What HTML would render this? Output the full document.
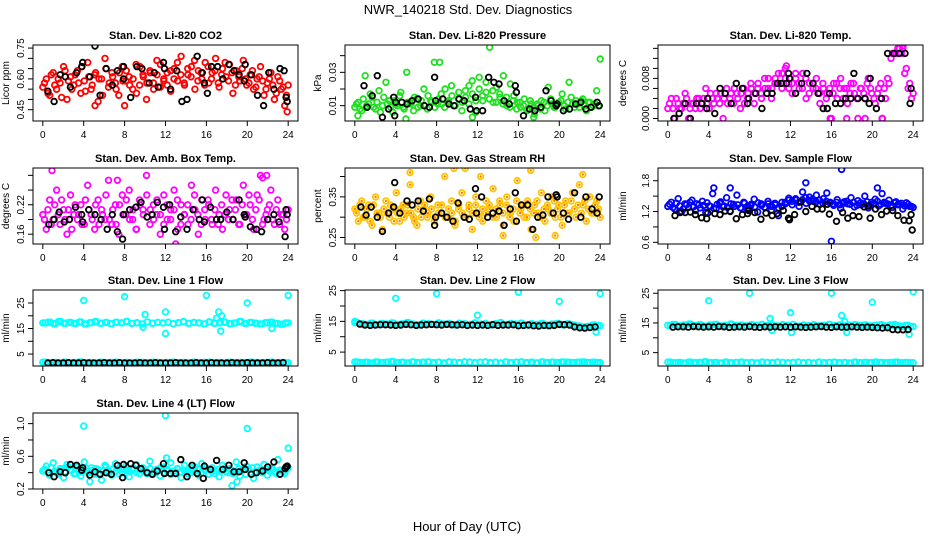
<!DOCTYPE html>
<html><head><meta charset="utf-8">
<style>
body{margin:0;background:#fff;}
svg{display:block;font-family:"Liberation Sans",Arial,sans-serif;}
</style></head>
<body>
<svg id="chart" width="936" height="540" viewBox="0 0 936 540" xmlns="http://www.w3.org/2000/svg">
<rect width="936" height="540" fill="#fff"/>
<text x="468" y="14" text-anchor="middle" font-size="13">NWR_140218  Std. Dev. Diagnostics</text>
<text x="467" y="531" text-anchor="middle" font-size="13">Hour of Day (UTC)</text>
<g id="panels"></g>
</svg>
<script>
const xTicks=[0,4,8,12,16,20,24];

const co2Vals=[0.56,0.60,0.52,0.63,0.55,0.58,0.66,0.50,0.61,0.57,0.64,0.53,0.59,0.68,0.55,0.62,0.49,0.60,0.70,0.56,0.63,0.58,0.52,0.66,0.59,0.61,0.55,0.67,0.57,0.62,0.50,0.64,0.58,0.69,0.56,0.60,0.63,0.54,0.65,0.59,0.71,0.57,0.62,0.66,0.55,0.64,0.60,0.68,0.58,0.63,0.70,0.56,0.65,0.61,0.67,0.53,0.64,0.59,0.69,0.57,0.62,0.55,0.60,0.66,0.52,0.58,0.63,0.50,0.61,0.55,0.47,0.57];
const co2Vals2=[0.58,0.53,0.62,0.57,0.60,0.51,0.64,0.59,0.55,0.62,0.58,0.66,0.54,0.61,0.57,0.63,0.60,0.52,0.65,0.58,0.61,0.55,0.63,0.59,0.64,0.57,0.60,0.53,0.66,0.61,0.58,0.63,0.55,0.62,0.67,0.59,0.57,0.64,0.60,0.68,0.62,0.58,0.65,0.61,0.69,0.59,0.63,0.57,0.66,0.60,0.64,0.58,0.62,0.68,0.59,0.63,0.57,0.61,0.65,0.60,0.58,0.64,0.56,0.61,0.59,0.55,0.60,0.57,0.53,0.59,0.56,0.52];
const co2BlackHours=[0.5,1.1,1.7,2.2,2.7,3.3,3.8,3.9,4.6,5.1,5.6,6.2,6.8,7.3,7.9,7.9,8.6,9.2,9.7,10.4,10.9,11.3,11.8,11.9,12.5,13.1,13.6,14.1,15.1,15.6,15.8,16.1,16.5,17.1,17.6,18.2,18.7,19.2,19.7,19.8,20.4,21.0,21.6,22.1,22.6,23.2,23.6,23.8,23.9];
const co2BlackVals=[0.54,0.49,0.62,0.61,0.56,0.63,0.66,0.68,0.61,0.76,0.52,0.65,0.57,0.64,0.60,0.66,0.51,0.66,0.65,0.58,0.63,0.56,0.68,0.65,0.55,0.64,0.49,0.50,0.71,0.63,0.58,0.53,0.66,0.66,0.60,0.67,0.64,0.62,0.59,0.67,0.62,0.52,0.47,0.63,0.55,0.65,0.64,0.51,0.49];
const co2OutHours=[5.1,8.0,23.9];
const co2OutVals=[0.47,0.47,0.44];

const presVals=[0.009,0.012,0.007,0.028,0.011,0.015,0.008,0.019,0.010,0.024,0.013,0.006,0.011,0.016,0.009,0.030,0.012,0.007,0.014,0.010,0.020,0.008,0.013,0.036,0.011,0.017,0.009,0.012,0.022,0.010,0.014,0.007,0.019,0.011,0.025,0.006,0.027,0.013,0.018,0.045,0.012,0.021,0.015,0.028,0.010,0.023,0.016,0.012,0.009,0.014,0.008,0.011,0.005,0.010,0.013,0.007,0.021,0.011,0.009,0.012,0.017,0.008,0.024,0.011,0.013,0.009,0.014,0.007,0.012,0.010,0.019,0.038];
const presVals2=[0.011,0.008,0.014,0.010,0.017,0.009,0.012,0.006,0.015,0.011,0.009,0.013,0.010,0.018,0.008,0.012,0.011,0.015,0.009,0.013,0.010,0.016,0.012,0.009,0.014,0.011,0.020,0.013,0.016,0.010,0.018,0.012,0.015,0.022,0.017,0.013,0.020,0.016,0.024,0.014,0.019,0.012,0.017,0.011,0.015,0.009,0.013,0.008,0.012,0.010,0.007,0.013,0.009,0.011,0.008,0.012,0.010,0.014,0.009,0.011,0.013,0.010,0.012,0.015,0.009,0.011,0.013,0.010,0.012,0.009,0.011,0.010];
const presBlackHours=[0.9,1.2,1.7,2.2,2.7,3.3,3.8,3.9,4.0,4.6,5.1,5.6,6.2,6.8,7.3,7.8,7.9,8.6,9.2,9.7,10.2,10.7,11.3,11.8,11.9,12.5,13.1,13.6,14.1,14.6,15.1,15.7,15.8,16.5,17.1,17.6,18.2,18.7,19.2,19.7,19.8,20.4,21.0,21.6,22.1,22.6,23.1,23.7,23.9];
const presBlackVals=[0.022,0.009,0.016,0.028,0.003,0.008,0.015,0.004,0.012,0.012,0.011,0.013,0.014,0.010,0.009,0.027,0.013,0.014,0.011,0.010,0.014,0.013,0.008,0.015,0.007,0.007,0.027,0.024,0.023,0.013,0.011,0.022,0.018,0.004,0.008,0.007,0.009,0.019,0.013,0.010,0.011,0.007,0.008,0.011,0.012,0.008,0.009,0.012,0.010];
const presOutHours=[0.3,5.0,8.3,11.5,17.5];
const presOutVals=[0.004,0.002,0.036,0.003,0.003];

const tempVals=[0.002,0.004,0.000,0.003,0.002,0.005,0.000,0.003,0.002,0.004,0.003,0.006,0.002,0.004,0.005,0.003,0.000,0.006,0.004,0.003,0.005,0.002,0.006,0.004,0.007,0.003,0.006,0.005,0.008,0.006,0.004,0.007,0.009,0.006,0.010,0.007,0.005,0.008,0.006,0.009,0.004,0.007,0.006,0.008,0.003,0.006,0.005,0.000,0.007,0.004,0.008,0.006,0.003,0.007,0.005,0.000,0.006,0.004,0.008,0.005,0.003,0.006,0.000,0.004,0.007,0.013,0.013,0.014,0.014,0.010,0.007,0.005];
const tempVals2=[0.003,0.002,0.004,0.002,0.003,0.004,0.002,0.003,0.004,0.002,0.004,0.003,0.005,0.003,0.004,0.005,0.004,0.003,0.005,0.006,0.004,0.005,0.003,0.005,0.006,0.005,0.007,0.004,0.006,0.008,0.006,0.008,0.007,0.009,0.008,0.006,0.007,0.009,0.007,0.006,0.008,0.005,0.007,0.006,0.005,0.007,0.004,0.006,0.005,0.007,0.006,0.004,0.006,0.005,0.007,0.004,0.006,0.005,0.007,0.006,0.004,0.005,0.007,0.006,0.008,0.012,0.013,0.014,0.013,0.009,0.006,0.004];
const tempBlackHours=[0.6,1.1,1.7,2.2,2.8,3.3,3.8,3.9,4.6,5.1,5.6,6.2,6.7,7.3,7.8,7.9,8.6,9.2,9.7,10.2,10.7,11.1,11.6,11.8,11.9,12.5,13.1,13.6,14.2,14.7,15.2,15.6,15.8,16.4,16.9,17.4,17.9,18.2,18.6,19.3,19.7,19.8,20.4,20.9,21.5,22.1,22.6,23.2,23.7,23.8];
const tempBlackVals=[0,0.001,0.003,0,0.003,0.003,0.002,0.004,0.001,0.006,0.005,0.003,0.007,0.006,0.003,0.004,0.005,0.002,0.005,0.005,0.007,0.007,0.007,0.009,0.008,0.005,0.007,0.009,0.007,0.005,0.002,0.002,0.005,0.003,0.003,0.004,0.004,0.009,0.004,0.004,0.003,0.008,0.002,0.004,0.013,0.013,0.013,0.013,0.003,0.006];
const tempOutHours=[11.6,16.0,17.5,19.3,21.0,23.0];
const tempOutVals=[0.0105,0,0,0,0,0.0145];

const ambVals=[0.20,0.17,0.23,0.19,0.25,0.18,0.21,0.16,0.24,0.20,0.19,0.22,0.18,0.26,0.20,0.17,0.23,0.21,0.19,0.27,0.18,0.22,0.16,0.24,0.20,0.25,0.19,0.17,0.23,0.21,0.28,0.18,0.22,0.20,0.16,0.24,0.19,0.21,0.25,0.17,0.22,0.20,0.18,0.26,0.21,0.16,0.23,0.19,0.22,0.18,0.25,0.20,0.17,0.24,0.21,0.19,0.23,0.18,0.26,0.20,0.22,0.17,0.24,0.28,0.19,0.21,0.25,0.18,0.23,0.20,0.17,0.21];
const ambVals2=[0.19,0.21,0.18,0.22,0.20,0.23,0.19,0.21,0.17,0.22,0.20,0.18,0.23,0.21,0.19,0.22,0.18,0.20,0.24,0.19,0.21,0.18,0.22,0.20,0.23,0.19,0.21,0.17,0.22,0.20,0.24,0.21,0.19,0.23,0.20,0.18,0.22,0.19,0.21,0.23,0.18,0.20,0.22,0.19,0.24,0.20,0.18,0.21,0.23,0.19,0.21,0.18,0.22,0.20,0.19,0.23,0.21,0.18,0.22,0.20,0.24,0.19,0.21,0.23,0.18,0.20,0.22,0.19,0.21,0.18,0.20,0.19];
const ambBlackHours=[0.6,1.1,1.6,2.1,2.6,3.2,3.8,3.9,4.5,5.1,5.7,6.3,6.8,7.3,7.8,7.9,8.5,9.1,9.6,10.2,10.7,11.2,11.8,11.9,12.4,13.0,13.5,14.1,14.7,15.3,15.6,15.8,16.4,17.0,17.4,18.0,18.6,19.2,19.7,19.8,20.3,20.9,21.4,22.0,22.6,23.1,23.7,23.8,23.9];
const ambBlackVals=[0.18,0.19,0.205,0.185,0.19,0.215,0.2,0.185,0.21,0.20,0.19,0.17,0.20,0.165,0.15,0.20,0.21,0.215,0.225,0.195,0.20,0.225,0.215,0.17,0.22,0.165,0.195,0.17,0.21,0.19,0.23,0.185,0.215,0.19,0.19,0.205,0.19,0.23,0.2,0.195,0.175,0.17,0.165,0.19,0.2,0.185,0.155,0.21,0.2];
const ambOutHours=[0.9,7.3,13.0,21.5,21.9];
const ambOutVals=[0.29,0.27,0.14,0.275,0.28];

const gasVals=[0.32,0.29,0.34,0.30,0.33,0.28,0.35,0.31,0.27,0.34,0.30,0.32,0.36,0.29,0.33,0.31,0.38,0.30,0.28,0.34,0.32,0.30,0.35,0.29,0.33,0.31,0.40,0.30,0.34,0.28,0.32,0.36,0.30,0.33,0.27,0.35,0.31,0.29,0.34,0.32,0.37,0.30,0.33,0.28,0.35,0.31,0.29,0.39,0.32,0.30,0.34,0.27,0.33,0.31,0.36,0.29,0.32,0.35,0.30,0.33,0.28,0.34,0.31,0.36,0.30,0.38,0.33,0.29,0.35,0.31,0.34,0.30];
const gasVals2=[0.31,0.33,0.30,0.32,0.29,0.33,0.31,0.30,0.32,0.31,0.33,0.29,0.31,0.32,0.30,0.33,0.31,0.29,0.32,0.30,0.33,0.31,0.32,0.30,0.31,0.33,0.30,0.32,0.31,0.29,0.33,0.31,0.30,0.32,0.31,0.33,0.30,0.32,0.31,0.33,0.30,0.32,0.34,0.31,0.33,0.30,0.32,0.34,0.31,0.33,0.30,0.32,0.31,0.34,0.30,0.32,0.33,0.31,0.34,0.32,0.30,0.33,0.31,0.34,0.32,0.33,0.31,0.34,0.32,0.31,0.33,0.32];
const gasBlackHours=[0.6,1.1,1.6,2.2,2.7,3.3,3.8,3.9,4.4,5.1,5.6,6.2,6.7,7.3,7.8,7.9,8.5,9.0,9.6,10.1,10.7,11.2,11.8,11.9,12.4,13.0,13.5,14.1,14.6,15.2,15.7,15.8,16.3,16.9,17.4,17.9,18.4,18.9,19.4,19.7,19.8,20.4,20.9,21.5,22.1,22.6,23.2,23.7,23.9];
const gasBlackVals=[0.325,0.305,0.325,0.30,0.265,0.31,0.325,0.385,0.31,0.34,0.33,0.34,0.315,0.345,0.28,0.30,0.31,0.30,0.29,0.335,0.30,0.295,0.37,0.31,0.35,0.30,0.31,0.315,0.28,0.32,0.36,0.29,0.33,0.33,0.27,0.30,0.305,0.35,0.31,0.355,0.35,0.31,0.295,0.36,0.30,0.35,0.32,0.31,0.35];
const gasOutHours=[5.4,9.7,10.8,12.3,14.5,17.2,17.7,19.6,22.3];
const gasOutVals=[0.41,0.42,0.42,0.40,0.255,0.415,0.25,0.255,0.405];

const flowVals=[1.30,1.38,1.25,1.45,1.20,1.35,1.28,1.42,1.22,1.33,1.40,1.18,1.31,1.55,1.26,1.36,1.29,1.47,1.21,1.34,1.52,1.27,1.38,1.24,1.32,1.44,1.19,1.35,1.28,1.40,1.23,1.36,1.12,1.30,1.38,1.46,1.33,1.42,1.30,1.58,1.36,1.48,1.40,1.52,1.34,1.45,1.56,1.38,1.32,1.43,1.26,1.39,1.35,1.47,1.29,1.41,1.33,1.50,1.27,1.38,1.44,1.31,1.55,1.36,1.42,1.28,1.39,1.34,1.25,1.37,1.30,1.28];
const flowVals2=[1.34,1.28,1.36,1.31,1.25,1.33,1.38,1.29,1.35,1.27,1.32,1.37,1.30,1.26,1.34,1.39,1.31,1.28,1.35,1.30,1.33,1.27,1.36,1.31,1.34,1.29,1.37,1.32,1.28,1.35,1.30,1.33,1.27,1.38,1.35,1.42,1.40,1.45,1.38,1.43,1.47,1.41,1.44,1.39,1.42,1.36,1.40,1.37,1.35,1.38,1.33,1.36,1.40,1.34,1.38,1.32,1.37,1.35,1.39,1.33,1.36,1.40,1.34,1.38,1.35,1.32,1.37,1.33,1.36,1.31,1.34,1.30];
const flowBlackHours=[0.7,1.2,1.7,2.2,2.7,3.3,3.8,3.9,4.6,5.1,5.6,6.1,6.7,7.3,7.8,7.9,8.5,9.1,9.6,10.2,10.7,11.3,11.8,11.9,12.4,13.0,13.5,14.1,14.6,15.1,15.6,15.8,16.5,17.1,17.6,18.1,18.7,19.2,19.6,19.8,20.3,20.9,21.4,22.0,22.5,23.1,23.6,23.8,23.9];
const flowBlackVals=[1.12,1.18,1.18,1.19,1.14,1.08,1.06,1.17,1.16,1.14,1.21,1.20,1.06,1.14,1.16,1.22,1.18,1.05,1.17,1.12,1.16,1.22,1.07,1.04,1.14,1.39,1.20,1.30,1.25,1.25,1.34,1.15,1.01,1.18,1.07,1.12,1.10,1.29,1.31,1.07,1.25,1.14,1.21,1.22,1.12,1.03,1.02,1.14,0.84];
const flowOutHours=[4.5,6.1,13.5,16.0,17.0,20.5];
const flowOutVals=[1.66,1.66,1.76,0.62,2.02,1.66];

const line1High=[17.2,17.5,16.9,17.8,17.1,17.4,17.0,17.6,16.8,17.3,17.7,17.1,17.4,16.9,17.5,17.2,17.8,17.0,17.3,16.8,17.6,17.1,17.4,17.2,17.5,16.9,17.3,17.7,17.0,17.4,17.2,16.8,17.6,17.1,17.3,17.5,16.9,17.2,17.8,17.0,17.4,17.1,16.8,17.3,17.5,17.0,16.7,17.2];
const line1Low=[1.8,1.6,1.7,1.5,1.8,1.6,1.7,1.9,1.6,1.7,1.5,1.8,1.6,1.7,1.8,1.6,1.7,1.5,1.8,1.7,1.6,1.8,1.7,1.6,1.7,1.8,1.6,1.7,1.5,1.8,1.6,1.7,1.8,1.6,1.7,1.5,1.8,1.6,1.7,1.6,1.8,1.7,1.6,1.7,1.8,1.6,1.7,1.6];
const line1Black=[1.5,1.6,1.5,1.5,1.6,1.5,1.5,1.6,1.5,1.5,1.5,1.6,1.5,1.5,1.6,1.5,1.5,1.5,1.6,1.5,1.5,1.6,1.5,1.5,1.5,1.6,1.5,1.5,1.5,1.6,1.5,1.5,1.6,1.5,1.5,1.5,1.6,1.5,1.5,1.6,1.5,1.5,1.5,1.6,1.5,1.5,1.6];
const line1OutHours=[4.0,8.0,9.8,10.0,12.0,12.0,16.0,17.0,17.2,17.4,17.5,20.0,22.4,24.0];
const line1OutVals=[26,27.5,15.5,20.5,21.5,13,28,19,21.5,14,20,25,15,28];

const line2High=[14.6,14.2,14.0,14.4,13.9,14.3,14.1,14.5,14.0,14.2,14.6,14.1,13.9,14.4,14.2,14.0,14.5,14.1,14.3,13.9,14.4,14.2,14.0,14.5,14.1,14.3,13.9,14.2,14.6,14.0,14.3,14.1,14.4,13.9,14.2,14.0,14.3,13.8,14.1,14.3,13.9,14.2,13.8,13.5,13.2,13.4,13.8,13.6];
const line2Low=line1Low;
const line2Black=[14.1,13.8,13.7,13.8,13.9,13.9,13.8,13.7,13.8,14.0,13.9,13.7,13.8,13.9,14.0,13.9,13.8,14.0,13.9,13.8,13.9,13.7,13.8,13.7,13.8,13.7,13.9,13.7,13.8,13.8,13.9,13.6,13.7,13.8,13.6,13.5,13.7,13.6,13.7,14.0,13.9,13.8,13.2,12.9,12.8,13.0,13.2];
const line2OutHours=[0,4.0,8.0,12.0,16.0,20.0,23.6,24.0];
const line2OutVals=[15,22.5,24,17,24.5,21.5,11.5,24];

const line3High=[14.2,14.5,14.0,14.3,14.6,14.1,14.4,13.9,14.3,14.5,14.0,14.2,14.6,14.1,14.3,14.0,14.4,14.2,14.5,14.1,14.3,14.0,14.4,14.2,14.5,13.9,14.3,14.1,14.4,14.0,14.2,14.5,14.1,14.3,14.0,14.2,14.4,14.1,14.3,14.0,14.2,14.4,14.0,14.3,14.1,13.9,14.2,13.8];
const line3Low=line1Low;
const line3Black=[13.6,13.7,13.7,13.6,13.8,13.7,13.6,13.7,13.6,13.8,13.7,13.5,13.6,13.7,13.6,13.8,13.6,13.5,13.7,13.6,13.7,13.6,13.7,13.6,13.7,13.6,13.5,13.6,13.7,13.8,13.6,13.5,13.7,13.6,13.6,13.7,13.6,13.5,13.6,13.5,13.4,13.3,13.4,12.8,12.7,12.7,12.8];
const line3OutHours=[4.0,8.0,10.0,10.2,12.0,12.1,16.0,17.0,17.3,17.5,20.0,22.2,23.6,24.0];
const line3OutVals=[22.5,25,16.5,12.5,18.5,11.8,25,17.5,15.5,11.8,22,14.5,11.2,25.5];

const line4Vals=[0.42,0.48,0.37,0.52,0.40,0.45,0.34,0.50,0.43,0.39,0.47,0.36,0.53,0.41,0.46,0.38,0.44,0.31,0.49,0.42,0.37,0.51,0.45,0.40,0.48,0.35,0.43,0.50,0.39,0.46,0.41,0.54,0.38,0.44,0.36,0.47,0.42,0.52,0.39,0.45,0.34,0.49,0.43,0.40,0.47,0.37,0.51,0.44,0.38,0.46,0.42,0.35,0.49,0.41,0.45,0.39,0.53,0.36,0.44,0.48,0.40,0.33,0.47,0.42,0.50,0.37,0.45,0.41,0.56,0.43,0.39,0.46];
const line4Vals2=[0.44,0.40,0.46,0.42,0.38,0.45,0.41,0.47,0.43,0.39,0.44,0.41,0.46,0.40,0.43,0.45,0.39,0.42,0.47,0.40,0.44,0.42,0.38,0.45,0.43,0.41,0.46,0.40,0.44,0.42,0.39,0.45,0.41,0.43,0.46,0.40,0.44,0.38,0.42,0.45,0.41,0.43,0.39,0.46,0.42,0.44,0.40,0.43,0.45,0.41,0.39,0.44,0.42,0.46,0.40,0.43,0.41,0.45,0.42,0.38,0.44,0.46,0.41,0.43,0.40,0.45,0.42,0.44,0.39,0.43,0.41,0.44];
const line4BlackHours=[0.6,1.1,1.7,2.2,2.7,3.3,3.8,3.9,4.6,5.1,5.6,6.2,6.7,7.3,7.8,7.9,8.6,9.1,9.6,10.2,10.7,11.2,11.8,11.9,12.5,13.0,13.5,14.1,14.6,15.1,15.7,15.8,16.4,17.0,17.6,18.2,18.7,19.2,19.7,19.8,20.4,20.9,21.5,22.0,22.6,23.2,23.7,23.8,23.9];
const line4BlackVals=[0.40,0.35,0.41,0.40,0.50,0.49,0.43,0.46,0.37,0.41,0.38,0.40,0.38,0.49,0.34,0.50,0.51,0.49,0.45,0.40,0.38,0.42,0.51,0.39,0.39,0.39,0.56,0.35,0.49,0.39,0.33,0.48,0.44,0.55,0.44,0.49,0.41,0.41,0.52,0.44,0.38,0.40,0.42,0.47,0.53,0.38,0.45,0.47,0.48];
const line4OutHours=[4.0,12.0,20.0,24.0,18.5,12.1,4.6,19.0];
const line4OutVals=[0.97,1.1,0.94,0.7,0.24,0.58,0.29,0.29];

const NS='http://www.w3.org/2000/svg';
const root=document.getElementById('panels');
function el(tag,attrs,parent){const e=document.createElementNS(NS,tag);for(const k in attrs)e.setAttribute(k,attrs[k]);parent.appendChild(e);return e;}

const panels=[
 {key:'co2',title:'Stan. Dev. Li-820 CO2',ylab:'Licor ppm',bx:33,by:45,ymin:0.395,ymax:0.765,ticks:[0.45,0.5,0.55,0.6,0.65,0.7,0.75],labels:['0.45','0.60','0.75'],labelVals:[0.45,0.6,0.75],
  series:[[null,co2Vals,'#ff0000'],['mid',co2Vals2,'#ff0000'],[co2OutHours,co2OutVals,'#ff0000'],[co2BlackHours,co2BlackVals,'#000']]},
 {key:'pressure',title:'Stan. Dev. Li-820 Pressure',ylab:'kPa',bx:345,by:45,ymin:0.0008,ymax:0.0464,ticks:[0.01,0.02,0.03,0.04],labels:['0.01','0.03'],labelVals:[0.01,0.03],
  series:[[null,presVals,'#1ee01e'],['mid',presVals2,'#1ee01e'],[presOutHours,presOutVals,'#1ee01e'],[presBlackHours,presBlackVals,'#000']]},
 {key:'temp',title:'Stan. Dev. Li-820 Temp.',ylab:'degrees C',bx:658,by:45,ymin:-0.0005,ymax:0.01467,ticks:[0,0.002,0.004,0.006,0.008,0.010,0.012,0.014],labels:['0.000','0.008'],labelVals:[0,0.008],
  series:[[null,tempVals,'#ff00ff'],['mid',tempVals2,'#ff00ff'],[tempOutHours,tempOutVals,'#ff00ff'],[tempBlackHours,tempBlackVals,'#000']]},
 {key:'amb',title:'Stan. Dev. Amb. Box Temp.',ylab:'degrees C',bx:33,by:168,ymin:0.14,ymax:0.295,ticks:[0.16,0.19,0.22,0.25,0.28],labels:['0.16','0.22'],labelVals:[0.16,0.22],
  series:[[null,ambVals,'#ff00ff'],['mid',ambVals2,'#ff00ff'],[ambOutHours,ambOutVals,'#ff00ff'],[ambBlackHours,ambBlackVals,'#000']]},
 {key:'gas',title:'Stan. Dev. Gas Stream RH',ylab:'percent',bx:345,by:168,ymin:0.234,ymax:0.421,ticks:[0.25,0.30,0.35,0.40],labels:['0.25','0.35'],labelVals:[0.25,0.35],
  series:[[null,gasVals,'#ffc400','#ff7a00'],['mid',gasVals2,'#ffc400','#ff7a00'],[gasOutHours,gasOutVals,'#ffc400','#ff7a00'],[gasBlackHours,gasBlackVals,'#000']]},
 {key:'sample',title:'Stan. Dev. Sample Flow',ylab:'ml/min',bx:658,by:168,ymin:0.567,ymax:2.048,ticks:[0.6,0.9,1.2,1.5,1.8],labels:['0.6','1.2','1.8'],labelVals:[0.6,1.2,1.8],
  series:[[null,flowVals,'#0000ff'],['mid',flowVals2,'#0000ff'],[flowOutHours,flowOutVals,'#0000ff'],[flowBlackHours,flowBlackVals,'#000']]},
 {key:'line1',title:'Stan. Dev. Line 1 Flow',ylab:'ml/min',bx:33,by:290,ymin:0.32,ymax:30.1,ticks:[5,10,15,20,25],labels:['5','15','25'],labelVals:[5,15,25],
  series:[[null,line1High,'#00ffff'],['mid',line1High,'#00ffff'],[null,line1Low,'#00ffff'],['mid',line1Low,'#00ffff'],[line1OutHours,line1OutVals,'#00ffff'],['half',line1Black,'#000']]},
 {key:'line2',title:'Stan. Dev. Line 2 Flow',ylab:'ml/min',bx:345,by:290,ymin:0.48,ymax:25.2,ticks:[5,10,15,20,25],labels:['5','15','25'],labelVals:[5,15,25],
  series:[[null,line2High,'#00ffff'],['mid',line2High,'#00ffff'],[null,line2Low,'#00ffff'],['mid',line2Low,'#00ffff'],[line2OutHours,line2OutVals,'#00ffff'],['half',line2Black,'#000']]},
 {key:'line3',title:'Stan. Dev. Line 3 Flow',ylab:'ml/min',bx:658,by:290,ymin:0.5,ymax:26.1,ticks:[5,10,15,20,25],labels:['5','15','25'],labelVals:[5,15,25],
  series:[[null,line3High,'#00ffff'],['mid',line3High,'#00ffff'],[null,line3Low,'#00ffff'],['mid',line3Low,'#00ffff'],[line3OutHours,line3OutVals,'#00ffff'],['half',line3Black,'#000']]},
 {key:'line4',title:'Stan. Dev. Line 4 (LT) Flow',ylab:'ml/min',bx:33,by:413,ymin:0.2,ymax:1.13,ticks:[0.2,0.4,0.6,0.8,1.0],labels:['0.2','0.6','1.0'],labelVals:[0.2,0.6,1.0],
  series:[[null,line4Vals,'#00ffff'],['mid',line4Vals2,'#00ffff'],[line4OutHours,line4OutVals,'#00ffff'],[line4BlackHours,line4BlackVals,'#000']]}
];

const W=265,H=76;
panels.forEach(p=>{
  const g=el('g',{},root);
  
  
  const xs=h=>p.bx+W*(h+0.96)/25.92;
  const ys=v=>p.by+H-(v-p.ymin)/(p.ymax-p.ymin)*H;
  const clip='clip-'+p.key;
  const cp=el('clipPath',{id:clip},g);
  el('rect',{x:p.bx,y:p.by,width:W,height:H},cp);
  const pts=el('g',{'clip-path':'url(#'+clip+')'},g);
  
  
  p.series.forEach(s=>{
    const hrs=s[0],vals=s[1],col=s[2],dot=s[3];
    vals.forEach((v,i)=>{
      let h;
      if(hrs===null) h=i*24/(vals.length-1);
      else if(hrs==='mid') h=(i+0.5)*24/vals.length;
      else if(hrs==='half') h=0.5+i*0.5;
      else h=hrs[i];
      const c=el('circle',{cx:xs(h).toFixed(1),cy:ys(v).toFixed(1),r:2.8,fill:'none',stroke:col,'stroke-width':1.8},pts);
      
      
      if(dot){const d=el('circle',{cx:xs(h).toFixed(1),cy:ys(v).toFixed(1),r:1.2,fill:dot},pts);
        
        }
    });
  });
  const box=el('rect',{x:p.bx,y:p.by,width:W,height:H,fill:'none',stroke:'#000','stroke-width':1},g);
  
  
  const t=el('text',{x:p.bx+W/2,y:p.by-6,'text-anchor':'middle','font-size':11,'font-weight':'bold'},g);
  t.textContent=p.title;
  
  
  xTicks.forEach(h=>{
    el('line',{x1:xs(h),x2:xs(h),y1:p.by+H,y2:p.by+H+5,stroke:'#000'},g);
    const lt=el('text',{x:xs(h),y:p.by+H+17,'text-anchor':'middle','font-size':10},g);
    lt.textContent=h;
    
    
  });
  p.ticks.forEach(v=>{el('line',{x1:p.bx-5,x2:p.bx,y1:ys(v),y2:ys(v),stroke:'#000'},g);});
  p.labelVals.forEach((v,i)=>{
    const x=p.bx-9,y=ys(v);
    const lt=el('text',{x:x,y:y,'text-anchor':'middle','font-size':10,transform:'rotate(-90 '+x+' '+y+')'},g);
    lt.textContent=p.labels[i];
    
    
  });
  const yx=p.bx-(p.key==='temp'||p.key==='sample'||p.key==='line3'?32:24),yy=p.by+H/2;
  const yl=el('text',{x:yx,y:yy,'text-anchor':'middle','font-size':10,transform:'rotate(-90 '+yx+' '+yy+')'},g);
  yl.textContent=p.ylab;
  
  
});
</script>
</body></html>
